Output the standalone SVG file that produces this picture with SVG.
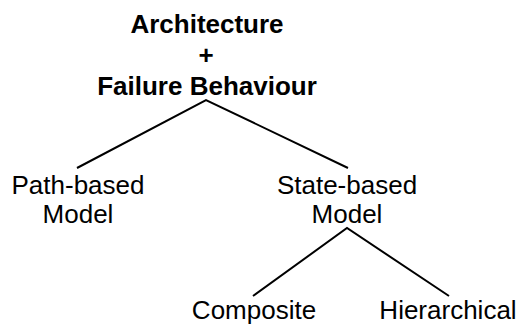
<svg xmlns="http://www.w3.org/2000/svg" width="518" height="325" viewBox="0 0 518 325">
  <style>
    .t { font-family: "Liberation Sans", Arial, Helvetica, sans-serif; font-size: 26px; fill: #000; text-anchor: middle; }
    .b { font-weight: bold; }
    .edge { stroke: #000; stroke-width: 2; fill: none; }
  </style>
  <rect width="518" height="325" fill="#fff"/>
  <g id="connectors">
    <polyline class="edge" points="77,168 206,100 348,168"/>
    <polyline class="edge" points="253,296 347,228 449,296"/>
  </g>
  <g id="root">
    <text class="t b" x="207" y="33">Architecture</text>
    <text class="t b" x="206" y="64">+</text>
    <text class="t b" x="207" y="95">Failure Behaviour</text>
  </g>
  <g id="path-based">
    <text class="t" x="78" y="194">Path-based</text>
    <text class="t" x="78" y="223">Model</text>
  </g>
  <g id="state-based">
    <text class="t" x="347" y="194">State-based</text>
    <text class="t" x="347" y="223">Model</text>
  </g>
  <g id="composite">
    <text class="t" x="254" y="319">Composite</text>
  </g>
  <g id="hierarchical">
    <text class="t" x="448" y="319">Hierarchical</text>
  </g>
</svg>
